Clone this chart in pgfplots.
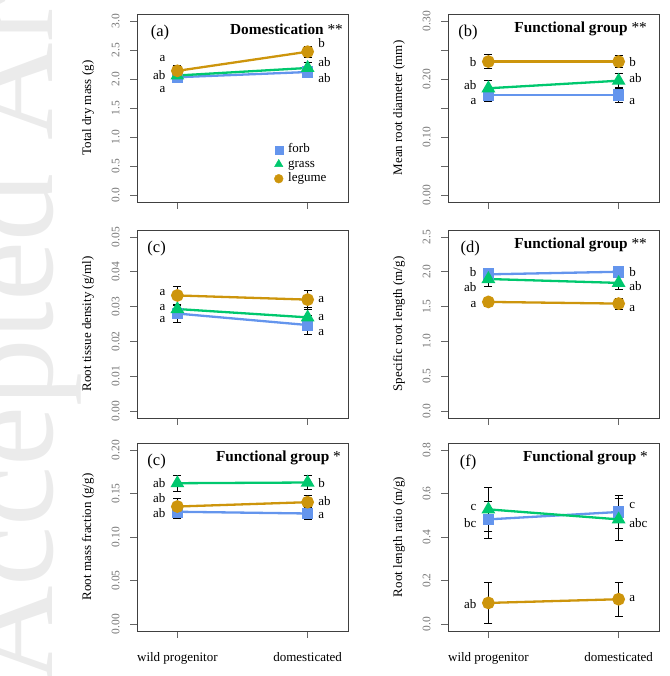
\documentclass[border=0pt]{standalone}
\usepackage{fontspec}
\setmainfont{Liberation Serif}
\usepackage{pgfplots}
\pgfplotsset{compat=1.18}
\definecolor{forb}{HTML}{6495ED}
\definecolor{grass}{HTML}{00C86E}
\definecolor{legume}{HTML}{CD950C}
\newcommand{\lt}{\fontsize{13}{15}\selectfont}
\newcommand{\tf}{\fontsize{15.3}{17}\selectfont}
\newcommand{\pf}{\fontsize{16.5}{18}\selectfont}
\tikzset{lab/.style={font=\lt, inner xsep=0.8pt, inner ysep=0pt, text depth=0pt}}
\pgfplotsset{
  rstyle/.style={
    width=211pt, height=188pt, scale only axis, clip=false,
    xmin=0.69, xmax=2.31, xtick={1,2}, xticklabels={},
    scaled y ticks=false,
    axis line style={draw=black!75, line width=0.8pt},
    tick style={draw=black!60, line width=0.6pt},
    tick align=outside, major tick length=7pt,
    xtick pos=bottom, ytick pos=left,
    yticklabel shift=7pt, xticklabel shift=11pt,
    yticklabel style={rotate=90, anchor=south, font=\fontsize{11.5}{12}\selectfont, text=black!55},
    xticklabel style={font=\fontsize{13}{14}\selectfont, text=black},
    ylabel style={at={(axis description cs:-0.232,0.5)}, anchor=center, font=\fontsize{13}{15}\selectfont},
  },
  ser/.style={line width=2.3pt, color=#1, mark options={solid, fill=#1, draw=#1},
    error bars/y dir=both, error bars/y explicit,
    error bars/error bar style={draw=black, line width=0.6pt},
    error bars/error mark options={draw=black, rotate=90, mark size=4pt, line width=0.6pt}},
  fb/.style={ser=forb, mark=square*, mark size=4.7pt},
  gr/.style={ser=grass, mark=triangle*, mark size=5.7pt},
  lg/.style={ser=legume, mark=*, mark size=5.2pt},
}
\begin{document}
\begin{tikzpicture}
\useasboundingbox (0,0) rectangle (669pt,676pt);
\node[overlay, rotate=90, anchor=base west, inner sep=0pt, font=\fontsize{135}{135}\selectfont, text=black!8] at (52pt,-8pt) {Accepted Article};

% (a)
\begin{axis}[rstyle, at={(137pt,474pt)}, anchor=south west,
  ymin=-0.12, ymax=3.12, ytick={0,0.5,1,1.5,2,2.5,3},
  yticklabels={0.0,0.5,1.0,1.5,2.0,2.5,3.0}, ylabel={Total dry mass (g)},
  legend style={at={(rel axis cs:0.65,0.315)}, anchor=north west, draw=none, fill=none,
    font=\fontsize{13}{14}\selectfont, row sep=1pt, inner sep=0pt,
    nodes={inner sep=1pt, text height=9pt, text depth=2.5pt},
    /tikz/every odd column/.append style={column sep=4pt}},
  legend cell align=left]
\addplot[fb, forget plot] coordinates {(1,2.03) +- (0,0.05) (2,2.12) +- (0,0.07)};
\addplot[gr, forget plot] coordinates {(1,2.06) +- (0,0.05) (2,2.19) +- (0,0.1)};
\addplot[lg, forget plot] coordinates {(1,2.14) +- (0,0.1) (2,2.47) +- (0,0.09)};
\addlegendimage{only marks, mark=square*, color=forb, mark size=4pt}
\addlegendentry{forb}
\addlegendimage{only marks, mark=triangle*, color=grass, mark size=4.8pt}
\addlegendentry{grass}
\addlegendimage{only marks, mark=*, color=legume, mark size=4.4pt}
\addlegendentry{legume}
\node[lab, anchor=east] at (axis cs:0.915,2.36) {a};
\node[lab, anchor=east] at (axis cs:0.915,2.07) {ab};
\node[lab, anchor=east] at (axis cs:0.915,1.82) {a};
\node[lab, anchor=west] at (axis cs:2.075,2.62) {b};
\node[lab, anchor=west] at (axis cs:2.075,2.30) {ab};
\node[lab, anchor=west] at (axis cs:2.075,2.02) {ab};
\node[font=\pf] at (rel axis cs:0.109,0.899) {(a)};
\node[anchor=east, font=\tf, inner sep=0pt] at ([xshift=-5pt]rel axis cs:1,0.92) {\textbf{Domestication} **};
\end{axis}

% (b)
\begin{axis}[rstyle, at={(448pt,474pt)}, anchor=south west,
  ymin=-0.012, ymax=0.312, ytick={0,0.05,0.1,0.15,0.2,0.25,0.3},
  yticklabels={0.00,,0.10,,0.20,,0.30}, ylabel={Mean root diameter (mm)}]
\addplot[fb] coordinates {(1,0.172) +- (0,0.01) (2,0.172) +- (0,0.012)};
\addplot[gr] coordinates {(1,0.184) +- (0,0.013) (2,0.197) +- (0,0.012)};
\addplot[lg] coordinates {(1,0.230) +- (0,0.012) (2,0.230) +- (0,0.01)};
\node[lab, anchor=east] at (axis cs:0.915,0.230) {b};
\node[lab, anchor=east] at (axis cs:0.915,0.189) {ab};
\node[lab, anchor=east] at (axis cs:0.915,0.161) {a};
\node[lab, anchor=west] at (axis cs:2.075,0.230) {b};
\node[lab, anchor=west] at (axis cs:2.075,0.201) {ab};
\node[lab, anchor=west] at (axis cs:2.075,0.162) {a};
\node[font=\pf] at (rel axis cs:0.095,0.899) {(b)};
\node[anchor=east, font=\tf, inner sep=0pt] at ([xshift=-12pt]rel axis cs:1,0.92) {\textbf{Functional group} **};
\end{axis}

% (c)
\begin{axis}[rstyle, at={(137pt,258pt)}, anchor=south west,
  ymin=-0.002, ymax=0.052, ytick={0,0.01,0.02,0.03,0.04,0.05},
  yticklabels={0.00,0.01,0.02,0.03,0.04,0.05}, ylabel={Root tissue density (g/ml)}]
\addplot[fb] coordinates {(1,0.0280) +- (0,0.0025) (2,0.0247) +- (0,0.0027)};
\addplot[gr] coordinates {(1,0.0293) +- (0,0.0015) (2,0.0269) +- (0,0.003)};
\addplot[lg] coordinates {(1,0.0332) +- (0,0.0026) (2,0.0320) +- (0,0.0027)};
\node[lab, anchor=east] at (axis cs:0.915,0.0341) {a};
\node[lab, anchor=east] at (axis cs:0.915,0.0298) {a};
\node[lab, anchor=east] at (axis cs:0.915,0.0262) {a};
\node[lab, anchor=west] at (axis cs:2.075,0.0320) {a};
\node[lab, anchor=west] at (axis cs:2.075,0.0269) {a};
\node[lab, anchor=west] at (axis cs:2.075,0.0226) {a};
\node[font=\pf] at (rel axis cs:0.093,0.899) {(c)};
\end{axis}

% (d)
\begin{axis}[rstyle, at={(448pt,258pt)}, anchor=south west,
  ymin=-0.1, ymax=2.6, ytick={0,0.5,1,1.5,2,2.5},
  yticklabels={0.0,0.5,1.0,1.5,2.0,2.5}, ylabel={Specific root length (m/g)}]
\addplot[fb] coordinates {(1,1.963) +- (0,0.07) (2,2.0) +- (0,0.06)};
\addplot[gr] coordinates {(1,1.896) +- (0,0.11) (2,1.84) +- (0,0.09)};
\addplot[lg] coordinates {(1,1.567) +- (0,0.07) (2,1.543) +- (0,0.08)};
\node[lab, anchor=east] at (axis cs:0.915,2.0) {b};
\node[lab, anchor=east] at (axis cs:0.915,1.786) {ab};
\node[lab, anchor=east] at (axis cs:0.915,1.534) {a};
\node[lab, anchor=west] at (axis cs:2.075,2.0) {b};
\node[lab, anchor=west] at (axis cs:2.075,1.796) {ab};
\node[lab, anchor=west] at (axis cs:2.075,1.477) {a};
\node[font=\pf] at (rel axis cs:0.105,0.899) {(d)};
\node[anchor=east, font=\tf, inner sep=0pt] at ([xshift=-12pt]rel axis cs:1,0.92) {\textbf{Functional group} **};
\end{axis}

% (e)
\begin{axis}[rstyle, at={(137pt,45pt)}, anchor=south west,
  ymin=-0.008, ymax=0.208, ytick={0,0.05,0.1,0.15,0.2},
  yticklabels={0.00,0.05,0.10,0.15,0.20}, ylabel={Root mass fraction (g/g)},
  xticklabels={wild progenitor, domesticated}]
\addplot[fb] coordinates {(1,0.129) +- (0,0.007) (2,0.127) +- (0,0.007)};
\addplot[gr] coordinates {(1,0.1618) +- (0,0.009) (2,0.1626) +- (0,0.008)};
\addplot[lg] coordinates {(1,0.135) +- (0,0.009) (2,0.140) +- (0,0.008)};
\node[lab, anchor=east] at (axis cs:0.915,0.1618) {ab};
\node[lab, anchor=east] at (axis cs:0.915,0.1446) {ab};
\node[lab, anchor=east] at (axis cs:0.915,0.128) {ab};
\node[lab, anchor=west] at (axis cs:2.075,0.1618) {b};
\node[lab, anchor=west] at (axis cs:2.075,0.1408) {ab};
\node[lab, anchor=west] at (axis cs:2.075,0.1247) {a};
\node[font=\pf] at (rel axis cs:0.093,0.899) {(c)};
\node[anchor=east, font=\tf, inner sep=0pt] at ([xshift=-7pt]rel axis cs:1,0.92) {\textbf{Functional group} *};
\end{axis}

% (f)
\begin{axis}[rstyle, at={(448pt,45pt)}, anchor=south west,
  ymin=-0.032, ymax=0.832, ytick={0,0.2,0.4,0.6,0.8},
  yticklabels={0.0,0.2,0.4,0.6,0.8}, ylabel={Root length ratio (m/g)},
  xticklabels={wild progenitor, domesticated}]
\addplot[fb] coordinates {(1,0.481) +- (0,0.085) (2,0.515) +- (0,0.075)};
\addplot[gr] coordinates {(1,0.527) +- (0,0.1) (2,0.481) +- (0,0.095)};
\addplot[lg] coordinates {(1,0.097) +- (0,0.093) (2,0.114) +- (0,0.08)};
\node[lab, anchor=east] at (axis cs:0.915,0.538) {c};
\node[lab, anchor=east] at (axis cs:0.915,0.466) {bc};
\node[lab, anchor=east] at (axis cs:0.915,0.093) {ab};
\node[lab, anchor=west] at (axis cs:2.075,0.543) {c};
\node[lab, anchor=west] at (axis cs:2.075,0.466) {abc};
\node[lab, anchor=west] at (axis cs:2.075,0.116) {a};
\node[font=\pf] at (rel axis cs:0.095,0.899) {(f)};
\node[anchor=east, font=\tf, inner sep=0pt] at ([xshift=-11pt]rel axis cs:1,0.92) {\textbf{Functional group} *};
\end{axis}
\end{tikzpicture}
\end{document}
